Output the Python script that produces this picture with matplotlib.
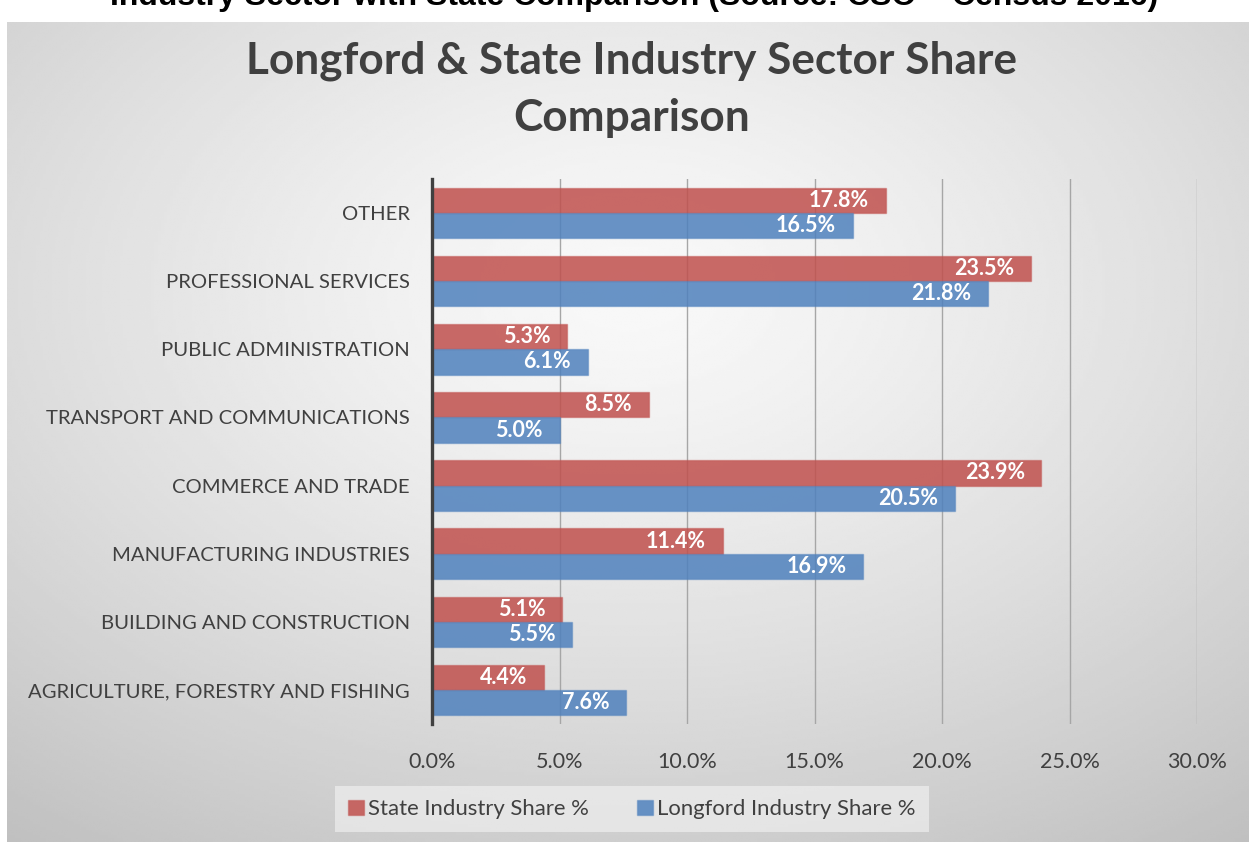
import numpy as np
import matplotlib

matplotlib.use("Agg")

import matplotlib.pyplot as plt
from matplotlib.patches import Patch


CATEGORIAS = [
    "AGRICULTURE, FORESTRY AND FISHING",
    "BUILDING AND CONSTRUCTION",
    "MANUFACTURING INDUSTRIES",
    "COMMERCE AND TRADE",
    "TRANSPORT AND COMMUNICATIONS",
    "PUBLIC ADMINISTRATION",
    "PROFESSIONAL SERVICES",
    "OTHER",
]
STATE = [4.4, 5.1, 11.4, 23.9, 8.5, 5.3, 23.5, 17.8]
LONGFORD = [7.6, 5.5, 16.9, 20.5, 5.0, 6.1, 21.8, 16.5]
X_TICKS = [0, 5, 10, 15, 20, 25, 30]

COR_STATE = (0.753, 0.314, 0.302)
COR_LONGFORD = (0.310, 0.506, 0.741)
COR_TEXTO = "#404040"
FONTE = ["Lato", "DejaVu Sans"]

W, H = 1249, 842


def px(x, y):
    # pixel (a partir do topo) -> fracao da figura
    return x / W, 1 - y / H


fig = plt.figure(figsize=(W / 100, H / 100), dpi=100)
fig.patch.set_facecolor("white")

# fundo com gradiente radial
bg = fig.add_axes([7 / W, 0, 1 - 7 / W, 1 - 22 / H], zorder=-5)
gx, gy = np.meshgrid(np.linspace(-1, 1, 400), np.linspace(-1, 1, 300))
dist = np.sqrt(gx ** 2 + (gy + 0.35) ** 2) / 1.75
dist = np.clip(dist, 0, 1)
claro, escuro = 0.975, 0.74
valores = claro - (claro - escuro) * dist ** 1.3
bg.imshow(valores, cmap="gray", vmin=0, vmax=1, aspect="auto",
          extent=[0, 1, 0, 1], origin="upper", interpolation="bilinear")
bg.axis("off")

x0, y_top = px(432, 179)
x1, y_bot = px(1197, 724)
ax = fig.add_axes([x0, y_bot, x1 - x0, y_top - y_bot])
ax.patch.set_alpha(0)

posicoes = np.arange(len(CATEGORIAS))
altura = 0.37

barras_state = ax.barh(
    posicoes + altura / 2, STATE, height=altura,
    color=(*COR_STATE, 0.85), edgecolor=(*COR_STATE, 0.45), linewidth=1,
    zorder=3,
)
barras_longford = ax.barh(
    posicoes - altura / 2, LONGFORD, height=altura,
    color=(*COR_LONGFORD, 0.85), edgecolor=(*COR_LONGFORD, 0.45), linewidth=1,
    zorder=3,
)

for barras, valores_serie in [(barras_state, STATE), (barras_longford, LONGFORD)]:
    for barra, valor in zip(barras, valores_serie):
        ax.annotate(
            f"{valor:.1f}%",
            (valor, barra.get_y() + barra.get_height() / 2),
            xytext=(-12, 0), textcoords="offset points",
            ha="right", va="center", color="white",
            fontsize=15.5, fontweight="bold", family=FONTE, zorder=4,
        )

ax.set_xlim(0, 30)
ax.set_ylim(-0.5, len(CATEGORIAS) - 0.5)
ax.set_xticks(X_TICKS)
ax.set_xticklabels([f"{t:.1f}%" for t in X_TICKS])
ax.set_yticks(posicoes)
ax.set_yticklabels(CATEGORIAS)
ax.tick_params(axis="both", length=0, colors=COR_TEXTO)
ax.tick_params(axis="x", pad=20, labelsize=15.5)
ax.tick_params(axis="y", pad=16, labelsize=14.6)
for rotulo in ax.get_xticklabels() + ax.get_yticklabels():
    rotulo.set_family(FONTE)

ax.grid(True, axis="x", color="#A6A6A6", linewidth=1)
ax.set_axisbelow(True)
for lado in ["top", "right", "bottom"]:
    ax.spines[lado].set_visible(False)
ax.spines["left"].set_color(COR_TEXTO)
ax.spines["left"].set_linewidth(2.4)
ax.spines["left"].set_zorder(5)

# titulo principal
tx, ty = px(632, 89)
fig.text(tx, ty, "Longford & State Industry Sector Share\nComparison",
         ha="center", va="center", fontsize=31.8, fontweight="bold",
         color=COR_TEXTO, family=FONTE, linespacing=1.5)

# titulo cortado no topo da imagem
cx, cy = px(634, 5)
fig.text(cx, cy, "Industry Sector with State Comparison (Source: CSO \u2013 Census 2016)",
         ha="center", va="baseline", fontsize=23, fontweight="bold",
         color="black", family=["Liberation Sans", "DejaVu Sans"])

# legenda
lx, ly = px(632, 809)
handles = [
    Patch(facecolor=(*COR_STATE, 0.85), edgecolor=(*COR_STATE, 0.45)),
    Patch(facecolor=(*COR_LONGFORD, 0.85), edgecolor=(*COR_LONGFORD, 0.45)),
]
leg = fig.legend(
    handles, ["State Industry Share %", "Longford Industry Share %"],
    loc="center", bbox_to_anchor=(lx, ly), ncol=2, frameon=True,
    handlelength=0.7, handleheight=0.7, handletextpad=0.2,
    columnspacing=2.2, borderpad=0.6, borderaxespad=0, fancybox=False,
    prop={"family": FONTE, "size": 15.9},
)
leg.get_frame().set_facecolor("#F4F4F4")
leg.get_frame().set_alpha(0.6)
leg.get_frame().set_edgecolor("none")
for texto in leg.get_texts():
    texto.set_color(COR_TEXTO)

fig.savefig("out.png", dpi=100)
